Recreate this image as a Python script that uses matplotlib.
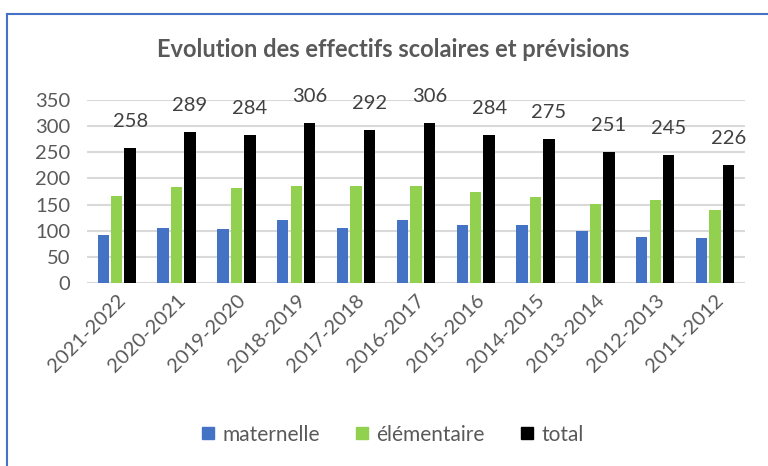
import matplotlib
matplotlib.use('Agg')
import matplotlib.pyplot as plt
import numpy as np
from matplotlib.lines import Line2D

plt.rcParams['font.family'] = ['Lato', 'DejaVu Sans']

years = ['2021-2022', '2020-2021', '2019-2020', '2018-2019', '2017-2018', '2016-2017',
         '2015-2016', '2014-2015', '2013-2014', '2012-2013', '2011-2012']
maternelle = [91, 105, 103, 120, 106, 120, 110, 110, 99, 87, 86]
elementaire = [167, 184, 181, 186, 186, 186, 174, 165, 152, 158, 140]
total = [258, 289, 284, 306, 292, 306, 284, 275, 251, 245, 226]

BLUE = '#4472C4'
GREEN = '#92D050'
TEXT = '#595959'

fig = plt.figure(figsize=(7.68, 4.66), dpi=100)
ax = fig.add_axes([0.113, 0.393, 0.857, 0.392])

x = np.arange(len(years))
w = 0.19
off = 0.225
ax.bar(x - off, maternelle, w, color=BLUE, label='maternelle', zorder=3)
ax.bar(x, elementaire, w, color=GREEN, label='élémentaire', zorder=3)
bars = ax.bar(x + off, total, w, color='black', label='total', zorder=3)

# value labels above the total bars
for b, v in zip(bars, total):
    ax.annotate(f'{v}', (b.get_x() + b.get_width() / 2, v), xytext=(0, 13),
                textcoords='offset points', ha='center', va='bottom',
                fontsize=14.5, color='#404040')

ax.set_ylim(0, 350)
ax.set_xlim(-0.5, len(years) - 0.5)
ax.set_yticks(range(0, 351, 50))
ax.yaxis.grid(True, color='#D9D9D9', linewidth=1.5, zorder=0)
ax.set_axisbelow(True)
for s in ax.spines.values():
    s.set_visible(False)
ax.tick_params(axis='both', length=0, labelsize=14.5, colors=TEXT)
ax.tick_params(axis='y', pad=12)
ax.set_xticks(x)
ax.set_xticklabels(years, rotation=45, ha='right', rotation_mode='anchor')
ax.tick_params(axis='x', pad=6)

fig.text(0.512, 0.893, 'Evolution des effectifs scolaires et prévisions',
         ha='center', va='center', fontsize=17, fontweight='bold', color=TEXT)

handles = [Line2D([], [], marker='s', linestyle='', markersize=9, color=c)
           for c in (BLUE, GREEN, 'black')]
fig.legend(handles, ['maternelle', 'élémentaire', 'total'], loc='center',
           bbox_to_anchor=(0.51, 0.067), ncol=3, frameon=False, fontsize=15,
           handlelength=0.8, handletextpad=0.3, columnspacing=1.6, labelcolor=TEXT)

# chart frame (top and left edges)
fig.add_artist(Line2D([0.009, 1.0], [0.97, 0.97], color=BLUE, linewidth=1.5,
                      transform=fig.transFigure))
fig.add_artist(Line2D([0.009, 0.009], [0.0, 0.97], color=BLUE, linewidth=1.5,
                      transform=fig.transFigure))

fig.savefig('out.png', dpi=100)
plt.close(fig)
